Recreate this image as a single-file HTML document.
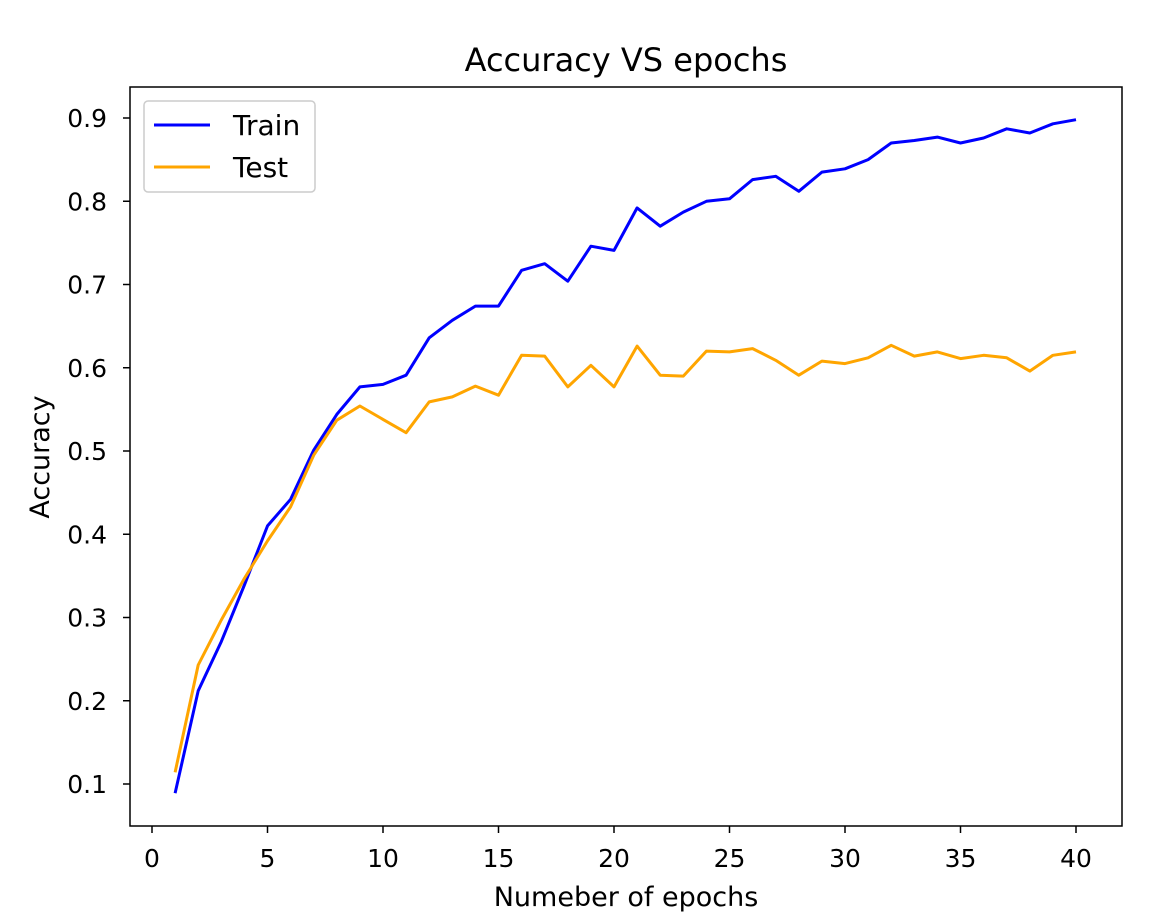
<!DOCTYPE html>
<html><head><meta charset="utf-8"><style>
html,body{margin:0;padding:0;background:#fff;}
svg{display:block;font-family:"DejaVu Sans","Liberation Sans",sans-serif;}
</style></head><body>
<svg id="chart" width="1166" height="918"></svg>
<script>
const epochs = [];
for (let i = 1; i <= 40; i++) epochs.push(i);
const trainAcc = [0.089,0.212,0.271,0.339,0.41,0.442,0.501,0.544,0.577,0.58,0.591,0.636,0.657,0.674,0.674,0.717,0.725,0.704,0.746,0.741,0.792,0.770,0.787,0.800,0.803,0.826,0.830,0.812,0.835,0.839,0.850,0.870,0.873,0.877,0.870,0.876,0.887,0.882,0.893,0.898];
const testAcc = [0.114,0.243,0.297,0.347,0.392,0.433,0.495,0.537,0.554,0.538,0.522,0.559,0.565,0.578,0.567,0.615,0.614,0.577,0.603,0.577,0.626,0.591,0.590,0.620,0.619,0.623,0.609,0.591,0.608,0.605,0.612,0.627,0.614,0.619,0.611,0.615,0.612,0.596,0.615,0.619];
const xTicks = [0,5,10,15,20,25,30,35,40];
const yTicks = [0.1,0.2,0.3,0.4,0.5,0.6,0.7,0.8,0.9];

const NS = "http://www.w3.org/2000/svg";
const svg = document.getElementById("chart");
const L=130,R=1122,T=87,B=826;
function xs(v){return 152 + v*(1076-152)/40;}
function ys(v){return 784 - (v-0.1)*(784-118)/0.8;}
function mk(tag, attrs, parent){const e=document.createElementNS(NS,tag);for(const k in attrs)e.setAttribute(k,attrs[k]);(parent||svg).appendChild(e);return e;}

const frame = mk("rect",{x:L,y:T,width:R-L,height:B-T,fill:"none",stroke:"#000","stroke-width":1.5});



xTicks.forEach(t=>{
  const x=xs(t);
  const tk=mk("line",{x1:x,y1:B,x2:x,y2:B+7,stroke:"#000","stroke-width":1.5});
  
  
  const lb=mk("text",{x:x,y:B+41,"text-anchor":"middle","font-size":25});
  lb.textContent=t;
  
  
});
yTicks.forEach(t=>{
  const y=ys(t);
  const tk=mk("line",{x1:L-7,y1:y,x2:L,y2:y,stroke:"#000","stroke-width":1.5});
  
  
  const lb=mk("text",{x:107,y:y+9,"text-anchor":"end","font-size":25});
  lb.textContent=t.toFixed(1);
  
  
});

function line(vals,color,name){
  const d=vals.map((v,i)=>(i?"L":"M")+xs(epochs[i]).toFixed(1)+","+ys(v).toFixed(1)).join(" ");
  const p=mk("path",{d:d,fill:"none",stroke:color,"stroke-width":3,"stroke-linejoin":"round"});
  
  
}
line(trainAcc,"#0000ff","train-line");
line(testAcc,"#ffa500","test-line");

const title=mk("text",{x:(L+R)/2,y:71,"text-anchor":"middle","font-size":32});
title.textContent="Accuracy VS epochs";


const xl=mk("text",{x:(L+R)/2,y:906,"text-anchor":"middle","font-size":27});
xl.textContent="Numeber of epochs";


const yl=mk("text",{x:0,y:0,"text-anchor":"middle","font-size":27,transform:"translate(49,457) rotate(-90)"});
yl.textContent="Accuracy";



const lg=mk("g",{});


mk("rect",{x:144,y:101,width:171,height:91,rx:4,fill:"#fff",stroke:"#ccc","stroke-width":1.5},lg);
[["Train","#0000ff",125],["Test","#ffa500",167]].forEach(([n,c,y])=>{
  const e=mk("g",{},lg);
  
  
  mk("line",{x1:154,y1:y,x2:210,y2:y,stroke:c,"stroke-width":3},e);
  const t=mk("text",{x:233,y:y+10,"font-size":28},e);
  t.textContent=n;
});
</script>
</body></html>
